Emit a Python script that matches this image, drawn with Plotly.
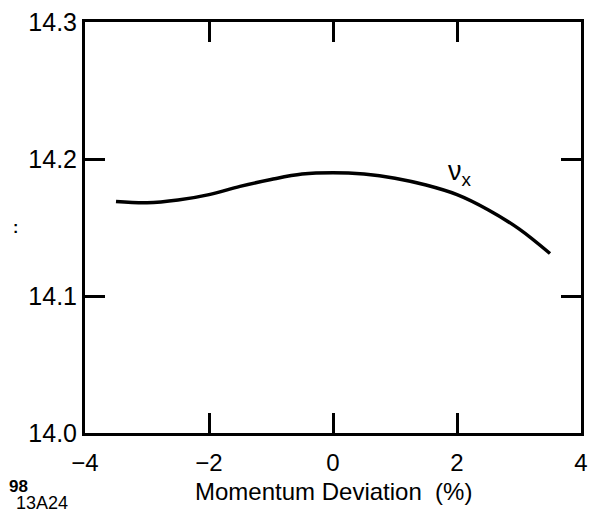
import plotly.graph_objects as go

momentum = [-3.5, -3.0, -2.5, -2.0, -1.5, -1.0, -0.5, 0.0, 0.5, 1.0, 1.5, 2.0, 2.5, 3.0, 3.5]
tune_x = [14.169, 14.168, 14.170, 14.174, 14.180, 14.185, 14.189, 14.190, 14.189, 14.186,
          14.181, 14.174, 14.163, 14.149, 14.131]
x_ticks = [-4, -2, 0, 2, 4]
x_tick_text = ["\u22124", "\u22122", "0", "2", "4"]
y_ticks = [14.0, 14.1, 14.2, 14.3]
y_tick_text = ["14.0", "14.1", "14.2", "14.3"]

FONT = "Liberation Sans, Arial, sans-serif"

fig = go.Figure()
fig.add_trace(go.Scatter(x=momentum, y=tune_x, mode="lines",
                         line=dict(color="black", width=3.5, shape="spline"),
                         showlegend=False, hoverinfo="skip"))

axis_common = dict(showgrid=False, zeroline=False, showline=True, linecolor="black",
                   linewidth=3, mirror="ticks", ticks="inside", ticklen=20,
                   tickwidth=2.5, tickcolor="black")

fig.update_xaxes(range=[-4, 4], tickvals=x_ticks, ticktext=x_tick_text,
                 ticklabelstandoff=6, tickfont=dict(family=FONT, size=24, color="black"),
                 **axis_common)
fig.update_yaxes(range=[14.0, 14.3], tickvals=y_ticks, ticktext=y_tick_text,
                 ticklabelstandoff=0, tickfont=dict(family=FONT, size=25, color="black"),
                 **axis_common)

annos = [
    dict(x=2.05, y=14.19, xref="x", yref="y",
         text="\u03bd<sub>x</sub>",
         showarrow=False, font=dict(family=FONT, size=27, color="black")),
    dict(x=0.5, y=(433 - 492) / 413, xref="paper", yref="paper",
         text="Momentum Deviation  (%)", showarrow=False, xanchor="center", yanchor="middle",
         font=dict(family=FONT, size=24, color="black")),
    dict(x=(15 - 85) / 503, y=(433 - 227) / 413, xref="paper", yref="paper",
         text="<b>:</b>", showarrow=False, xanchor="center", yanchor="middle",
         font=dict(family=FONT, size=16, color="black")),
    dict(x=(29 - 85) / 503, y=(433 - 487) / 413, xref="paper", yref="paper",
         text="<b>98</b>", showarrow=False, xanchor="right", yanchor="middle",
         font=dict(family=FONT, size=17, color="black")),
    dict(x=(13 - 85) / 503, y=(433 - 503) / 413, xref="paper", yref="paper",
         text="13A24", showarrow=False, xanchor="left", yanchor="middle",
         font=dict(family=FONT, size=18, color="black")),
]
fig.update_layout(width=596, height=515, margin=dict(l=85, r=8, t=20, b=82),
                  paper_bgcolor="white", plot_bgcolor="white", annotations=annos)

fig.write_html("out.html")
